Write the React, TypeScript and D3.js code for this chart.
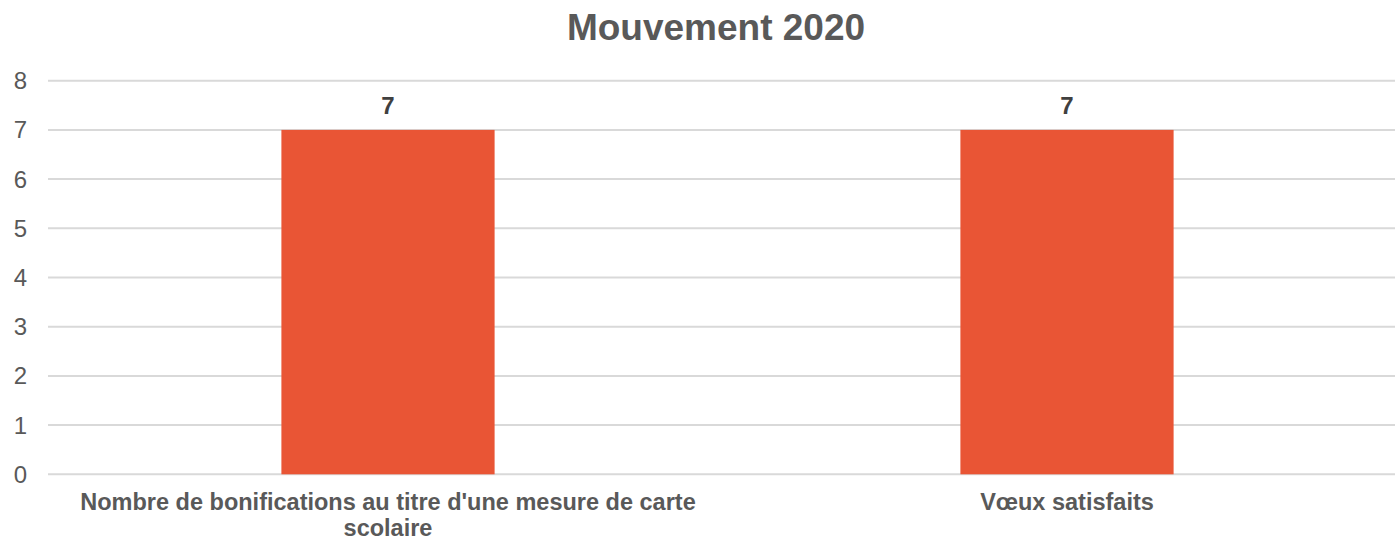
import React from "react";
import * as d3 from "d3";

const title = "Mouvement 2020";
const categories = [
  ["Nombre de bonifications au titre d'une mesure de carte", "scolaire"],
  ["Vœux satisfaits"],
];
const categoryKeys = ["bonifications", "voeux"];
const values = [7, 7];
const yTicks = [0, 1, 2, 3, 4, 5, 6, 7, 8];

const W = 1395;
const H = 540;

export default function App() {
  const x = d3.scaleBand<string>().domain(categoryKeys).range([48.5, 1406.5]).padding(0);
  const y = d3.scaleLinear().domain([0, 8]).range([474.3, 80.7]);
  const barW = x.bandwidth() * 0.314;
  const font = "'Liberation Sans', Arial, sans-serif";
  return (
    <svg
      width={W}
      height={H}
      style={{ position: "absolute", left: 0, top: 0, background: "#fff" }}
      fontFamily={font}
    >
      <text x={716} y={40} textAnchor="middle" fontSize={37} fontWeight="bold" fill="#595959">
        {title}
      </text>
      {yTicks.map((t) => (
        <g key={t}>
          <line x1={48} x2={W} y1={y(t)} y2={y(t)} stroke="#D9D9D9" strokeWidth={2} />
          <text x={27} y={y(t)} dy="0.35em" textAnchor="end" fontSize={24} fill="#595959">
            {t}
          </text>
        </g>
      ))}
      {categoryKeys.map((k, i) => {
        const cx = (x(k) as number) + x.bandwidth() / 2;
        return (
          <g key={k}>
            <rect x={cx - barW / 2} y={y(values[i])} width={barW} height={y(0) - y(values[i])} fill="#E95535" />
            <text x={cx} y={y(values[i]) - 16} textAnchor="middle" fontSize={24} fontWeight="bold" fill="#404040">
              {values[i]}
            </text>
            {categories[i].map((line, j) => (
              <text key={j} x={cx} y={510 + j * 26} textAnchor="middle" fontSize={23.5} fontWeight="bold" fill="#595959">
                {line}
              </text>
            ))}
          </g>
        );
      })}
    </svg>
  );
}
